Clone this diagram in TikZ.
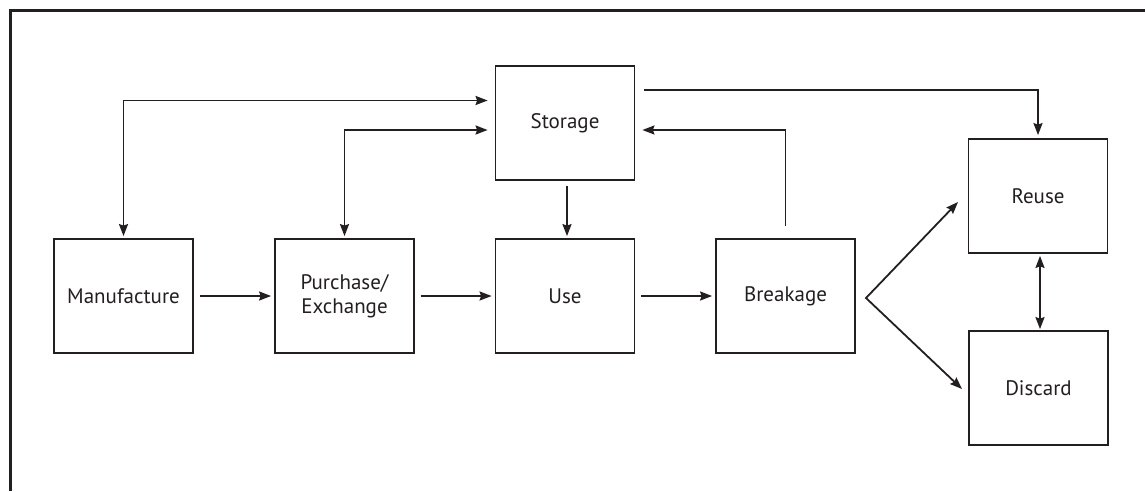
\documentclass[tikz,border=0pt]{standalone}
\usepackage{fontspec}
\setmainfont{PT Sans}
\usetikzlibrary{arrows.meta}
\definecolor{ink}{HTML}{231F20}
\tikzset{
  box/.style={draw=ink, line width=1.8pt, minimum width=139pt, minimum height=114pt,
    inner sep=0pt, align=center, text=ink, font=\fontsize{21}{24.5}\selectfont},
  tip/.style={Stealth[length=12pt,width=9pt,inset=1.5pt]},
  conn/.style={draw=ink, line width=1.8pt, -{Stealth[length=12pt,width=9pt,inset=1.5pt]}},
  conn2/.style={draw=ink, line width=1.8pt, {Stealth[length=12pt,width=9pt,inset=1.5pt]}-{Stealth[length=12pt,width=9pt,inset=1.5pt]}},
}
\begin{document}
\begin{tikzpicture}[x=1pt,y=-1pt]
\useasboundingbox (0,0) rectangle (1145,491);
\draw[ink, line width=3pt] (1145,10) -- (10,10) -- (10,491);
\node[box] (man) at (123.5,296) {Manufacture};
\node[box] (pur) at (344.5,296) {Purchase/\\Exchange};
\node[box] (use) at (565,296) {Use};
\node[box] (brk) at (785.5,296) {Breakage};
\node[box] (sto) at (565,123) {Storage};
\node[box] (reu) at (1038,196) {Reuse};
\node[box] (dis) at (1038.5,388) {Discard};
\coordinate (ya) at (0,100.5);
\coordinate (yb) at (0,130);
\coordinate (yc) at (0,90);
\coordinate (fork) at (866,298);
\coordinate (tipA) at (958,202);
\coordinate (tipB) at (962,389);
% horizontal flow
\draw[conn, shorten <=6pt, shorten >=3pt] (man.east) -- (pur.west);
\draw[conn, shorten <=6pt, shorten >=3pt] (pur.east) -- (use.west);
\draw[conn, shorten <=6pt, shorten >=3pt] (use.east) -- (brk.west);
% storage links
\draw[conn2, shorten <=2pt, shorten >=7pt] (man.north) |- (sto.west |- ya);
\draw[conn2, shorten <=2pt, shorten >=7pt] (pur.north) |- (sto.west |- yb);
\draw[conn, shorten <=5pt, shorten >=2pt] ([xshift=2pt]sto.south) -- ([xshift=2pt]use.north);
\draw[conn, shorten <=12pt, shorten >=7pt] (brk.north) |- (sto.east |- yb);
\draw[conn, shorten <=9pt, shorten >=3pt] (sto.east |- yc) -| (reu.north);
% fork from Breakage to Reuse and Discard
\draw[conn2] (tipA) -- (fork) -- (tipB);
\draw[conn2, shorten <=2pt, shorten >=1pt] ([xshift=2pt]reu.south) -- ([xshift=1.5pt]dis.north);
\end{tikzpicture}
\end{document}
